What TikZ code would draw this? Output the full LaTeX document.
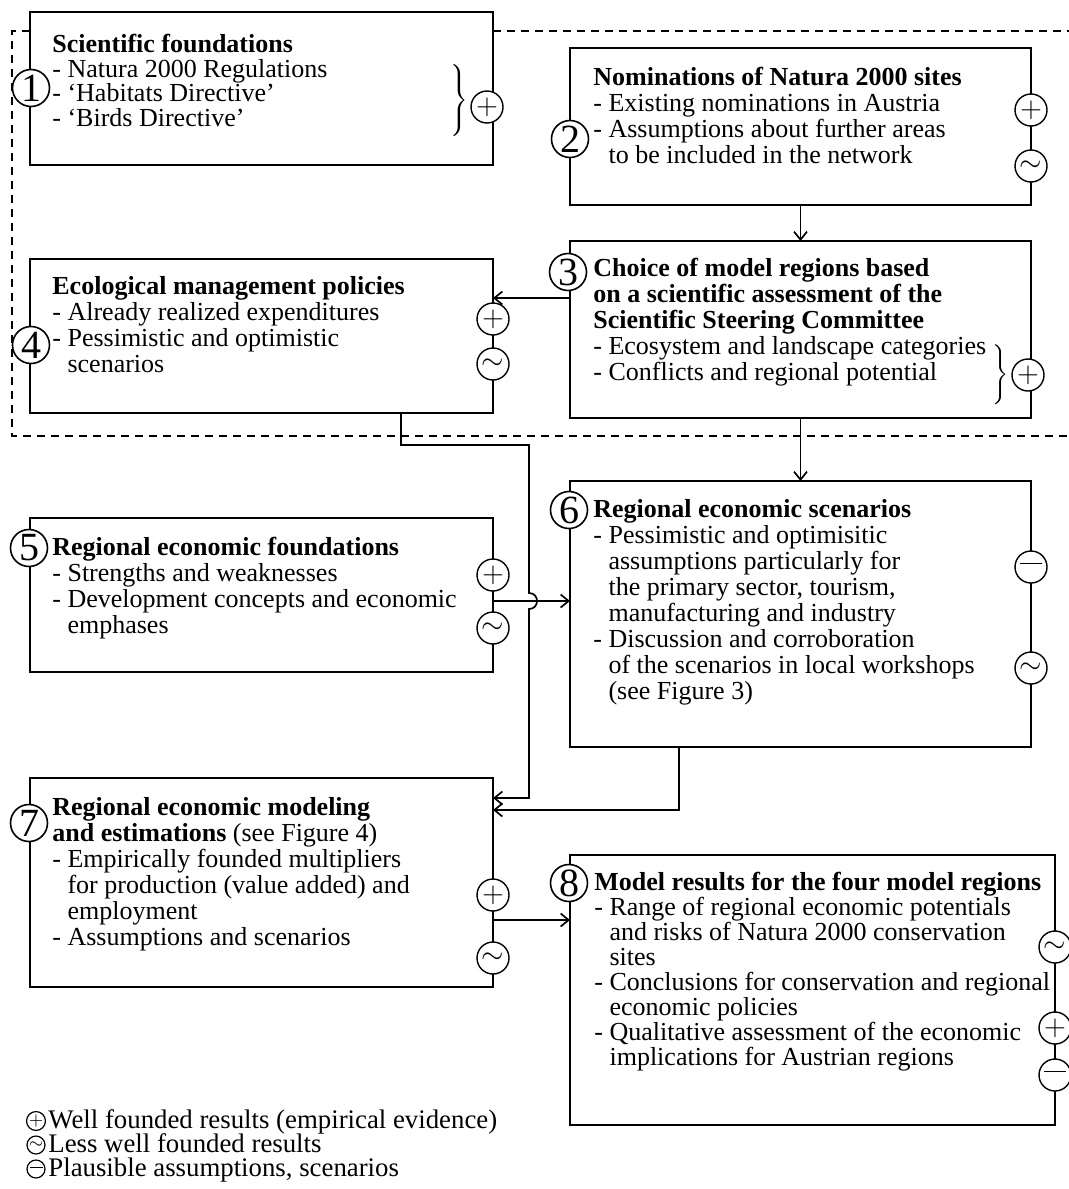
\documentclass[tikz,border=0pt]{standalone}
\usepackage{fontspec}
\setmainfont{Liberation Serif}
\usetikzlibrary{arrows.meta}
\newcommand\fs{\rule{0pt}{9.5pt}}
\newcommand\ind{\hphantom{- }}
\newcommand\mminus{\rule[3.2pt]{11pt}{0.55pt}}
\begin{document}
\begin{tikzpicture}[x=0.5pt,y=-0.5pt,
  boxn/.style={draw, line width=0.85pt, inner sep=0pt, outer sep=0pt, anchor=north west},
  txt/.style={anchor=north west, inner sep=0pt, align=left, font=\fontsize{13pt}{13pt}\selectfont},
  numc/.style={circle, draw, fill=white, line width=0.8pt, minimum size=18.5pt, inner sep=0pt, font=\fontsize{20pt}{20pt}\selectfont},
  mk/.style={circle, draw, fill=white, line width=0.7pt, minimum size=16pt, inner sep=0pt, font=\fontsize{15pt}{15pt}\selectfont},
  lk/.style={circle, draw, line width=0.6pt, minimum size=9pt, inner sep=0pt, font=\fontsize{9pt}{9pt}\selectfont},
  ltxt/.style={anchor=base west, inner sep=0pt, font=\fontsize{13.4pt}{14pt}\selectfont},
  conn/.style={line width=0.85pt},
  arr/.style={conn, -{Straight Barb[length=4pt,width=6.5pt]}},
  bnd/.style={line width=0.65pt, dash pattern=on 4pt off 3pt},
]
\useasboundingbox (0,0) rectangle (1069,1189);

% dashed boundary
\coordinate (dtl) at (12,31);
\coordinate (dtr) at (1069,31);
\coordinate (dbl) at (12,436);
\coordinate (dbr) at (1069,436);

% boxes
\node[boxn, minimum width=231.5pt, minimum height=76.5pt] (b1) at (30,12) {};
\node[boxn, minimum width=230.5pt, minimum height=78.5pt] (b2) at (570,48) {};
\node[boxn, minimum width=230.5pt, minimum height=88.5pt] (b3) at (570,241) {};
\node[boxn, minimum width=231.5pt, minimum height=77pt] (b4) at (30,259) {};
\node[boxn, minimum width=231.5pt, minimum height=77pt] (b5) at (30,518) {};
\node[boxn, minimum width=230.5pt, minimum height=133pt] (b6) at (570,481) {};
\node[boxn, minimum width=231.5pt, minimum height=104.5pt] (b7) at (30,778) {};
\node[boxn, minimum width=242.5pt, minimum height=135pt] (b8) at (570,855) {};

\draw[bnd] (dtl -| b1.west) -- (dtl) -- (dbl) -- (dbr);
\draw[bnd] (dtr -| b1.east) -- (dtr);

% texts
\node[txt, font=\fontsize{13pt}{12.3pt}\selectfont] (t1) at (52,33)
  {\fs\textbf{Scientific foundations}\\- Natura 2000 Regulations\\- ‘Habitats Directive’\\- ‘Birds Directive’};
\node[txt] (t2) at (593,66)
  {\fs\textbf{Nominations of Natura 2000 sites}\\- Existing nominations in Austria\\- Assumptions about further areas\\\ind to be included in the network};
\node[txt] (t3) at (593,257)
  {\fs\textbf{Choice of model regions based}\\\textbf{on a scientific assessment of the}\\\textbf{Scientific Steering Committee}\\- Ecosystem and landscape categories\\- Conflicts and regional potential};
\node[txt] (t4) at (52,275)
  {\fs\textbf{Ecological management policies}\\- Already realized expenditures\\- Pessimistic and optimistic\\\ind scenarios};
\node[txt] (t5) at (52,536)
  {\fs\textbf{Regional economic foundations}\\- Strengths and weaknesses\\- Development concepts and economic\\\ind emphases};
\node[txt] (t6) at (593,498)
  {\fs\textbf{Regional economic scenarios}\\- Pessimistic and optimisitic\\\ind assumptions particularly for\\\ind the primary sector, tourism,\\\ind manufacturing and industry\\- Discussion and corroboration\\\ind of the scenarios in local workshops\\\ind (see Figure 3)};
\node[txt] (t7) at (52,796)
  {\fs\textbf{Regional economic modeling}\\\textbf{and estimations} (see Figure 4)\\- Empirically founded multipliers\\\ind for production (value added) and\\\ind employment\\- Assumptions and scenarios};
\node[txt, font=\fontsize{13pt}{12.5pt}\selectfont] (t8) at (594,871)
  {\fs\textbf{Model results for the four model regions}\\- Range of regional economic potentials\\\ind and risks of Natura 2000 conservation\\\ind sites\\- Conclusions for conservation and regional\\\ind economic policies\\- Qualitative assessment of the economic\\\ind implications for Austrian regions};

% braces
\node[inner sep=0pt] (br1) at (458,102) {$\left.\vrule height 17pt depth 17pt width 0pt\right\}$};
\node[inner sep=0pt] (br3) at (999,375) {$\left.\vrule height 11pt depth 11pt width 0pt\right\}$};

% connectors
\draw[arr] (b2.south) -- (b3.north);
\draw[arr] (b3.south) -- (b6.north);
\coordinate (c34) at (570,298);
\draw[arr] (c34) -- (c34 -| b4.east);
\coordinate (c56) at (493,601);
\draw[arr] (c56) -- (c56 -| b6.west);
\coordinate (c4a) at (401,413);
\coordinate (c4b) at (401,445);
\coordinate (c4c) at (529,445);
\coordinate (hopA) at (529,593);
\coordinate (hopB) at (529,609);
\coordinate (c4d) at (529,798);
\draw[arr] (c4a) -- (c4b) -- (c4c) -- (hopA) .. controls +(10.7,0) and +(10.7,0) .. (hopB) -- (c4d) -- (c4d -| b7.east);
\coordinate (c6a) at (679,747);
\coordinate (c6b) at (679,810);
\draw[arr] (c6a) -- (c6b) -- (c6b -| b7.east);
\coordinate (c78) at (493,920);
\draw[arr] (c78) -- (c78 -| b8.west);

% numbered circles
\node[numc] (n1) at (31,88) {1};
\node[numc] (n2) at (570,139) {2};
\node[numc] (n3) at (568,272) {3};
\node[numc] (n4) at (31,345) {4};
\node[numc] (n5) at (29,548) {5};
\node[numc] (n6) at (569,510) {6};
\node[numc] (n7) at (29,823) {7};
\node[numc] (n8) at (569,883) {8};

% markers
\node[mk] (m1a) at (487,107) {$+$};
\node[mk] (m2a) at (1031,110) {$+$};
\node[mk] (m2b) at (1031,166) {$\sim$};
\node[mk] (m3a) at (1028,375) {$+$};
\node[mk] (m4a) at (493,319) {$+$};
\node[mk] (m4b) at (493,364) {$\sim$};
\node[mk] (m5a) at (493,575) {$+$};
\node[mk] (m5b) at (493,628) {$\sim$};
\node[mk] (m6a) at (1031,567) {\mminus};
\node[mk] (m6b) at (1031,668) {$\sim$};
\node[mk] (m7a) at (493,895) {$+$};
\node[mk] (m7b) at (493,958) {$\sim$};
\node[mk] (m8a) at (1055,947) {$\sim$};
\node[mk] (m8b) at (1055,1028) {$+$};
\node[mk] (m8c) at (1055,1075) {\mminus};

% legend
\node[lk] (l1) at (36,1121) {$+$};
\node[lk] (l2) at (36,1145) {$\sim$};
\node[lk] (l3) at (36,1169) {\rule[2pt]{6.5pt}{0.45pt}};
\node[ltxt] (lt1) at (48,1128) {Well founded results (empirical evidence)};
\node[ltxt] (lt2) at (48,1152) {Less well founded results};
\node[ltxt] (lt3) at (48,1176) {Plausible assumptions, scenarios};
\end{tikzpicture}
\end{document}
